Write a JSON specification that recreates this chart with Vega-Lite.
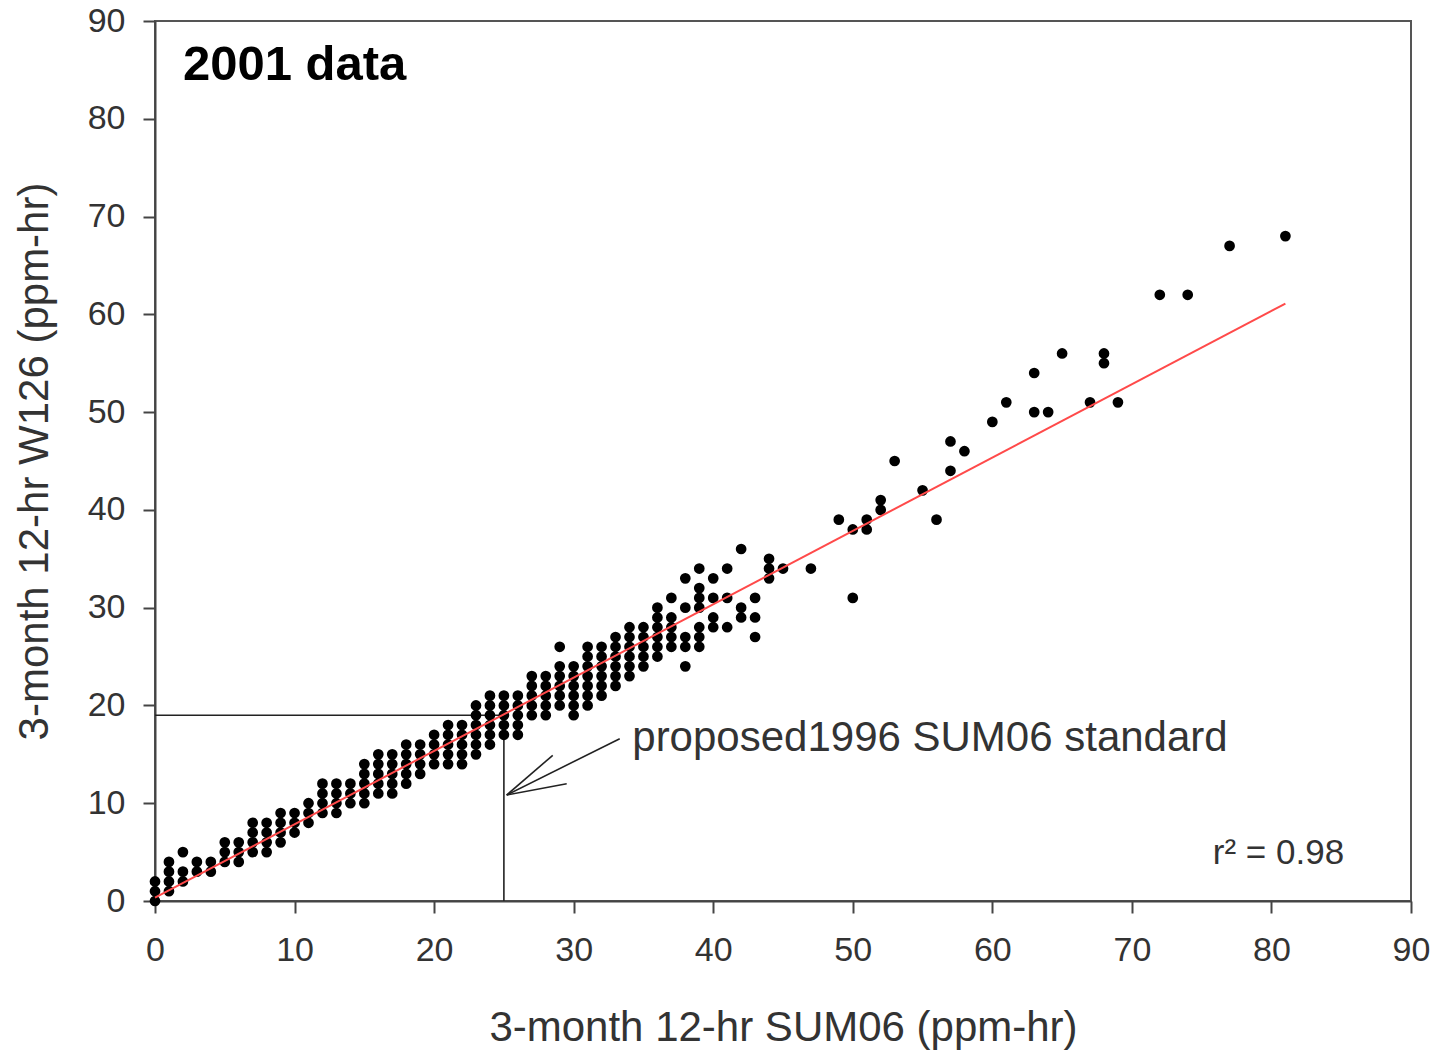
{
  "$schema": "https://vega.github.io/schema/vega-lite/v6.json",
  "width": 1256,
  "height": 880,
  "autosize": {"type": "none"},
  "padding": {"left": 155, "top": 21, "right": 28, "bottom": 150},
  "background": "white",
  "config": {
    "font": "Liberation Sans",
    "view": {"stroke": "#555555", "strokeWidth": 2},
    "axis": {
      "grid": false,
      "domainColor": "#444444",
      "domainWidth": 2,
      "tickColor": "#444444",
      "tickWidth": 2,
      "tickSize": 12,
      "labelFlush": false,
      "labelOverlap": false,
      "labelFont": "Liberation Sans",
      "labelFontSize": 34,
      "labelColor": "#333333",
      "titleFont": "Liberation Sans",
      "titleFontSize": 42,
      "titleFontWeight": "normal",
      "titleColor": "#333333"
    }
  },
  "datasets": {
    "pts": [
      {"x":0,"y":0},{"x":0,"y":1},{"x":0,"y":2},
      {"x":1,"y":1},{"x":1,"y":2},{"x":1,"y":3},{"x":1,"y":4},
      {"x":2,"y":2},{"x":2,"y":3},{"x":2,"y":5},
      {"x":3,"y":3},{"x":3,"y":4},
      {"x":4,"y":3},{"x":4,"y":4},
      {"x":5,"y":4},{"x":5,"y":5},{"x":5,"y":6},
      {"x":6,"y":4},{"x":6,"y":5},{"x":6,"y":6},
      {"x":7,"y":5},{"x":7,"y":6},{"x":7,"y":7},{"x":7,"y":8},
      {"x":8,"y":5},{"x":8,"y":6},{"x":8,"y":7},{"x":8,"y":8},
      {"x":9,"y":6},{"x":9,"y":7},{"x":9,"y":8},{"x":9,"y":9},
      {"x":10,"y":7},{"x":10,"y":8},{"x":10,"y":9},
      {"x":11,"y":8},{"x":11,"y":9},{"x":11,"y":10},
      {"x":12,"y":9},{"x":12,"y":10},{"x":12,"y":11},{"x":12,"y":12},
      {"x":13,"y":9},{"x":13,"y":10},{"x":13,"y":11},{"x":13,"y":12},
      {"x":14,"y":10},{"x":14,"y":11},{"x":14,"y":12},
      {"x":15,"y":10},{"x":15,"y":11},{"x":15,"y":12},{"x":15,"y":13},{"x":15,"y":14},
      {"x":16,"y":11},{"x":16,"y":12},{"x":16,"y":13},{"x":16,"y":14},{"x":16,"y":15},
      {"x":17,"y":11},{"x":17,"y":12},{"x":17,"y":13},{"x":17,"y":14},{"x":17,"y":15},
      {"x":18,"y":12},{"x":18,"y":13},{"x":18,"y":14},{"x":18,"y":15},{"x":18,"y":16},
      {"x":19,"y":13},{"x":19,"y":14},{"x":19,"y":15},{"x":19,"y":16},
      {"x":20,"y":14},{"x":20,"y":15},{"x":20,"y":16},{"x":20,"y":17},
      {"x":21,"y":14},{"x":21,"y":15},{"x":21,"y":16},{"x":21,"y":17},{"x":21,"y":18},
      {"x":22,"y":14},{"x":22,"y":15},{"x":22,"y":16},{"x":22,"y":17},{"x":22,"y":18},
      {"x":23,"y":15},{"x":23,"y":16},{"x":23,"y":17},{"x":23,"y":18},{"x":23,"y":19},{"x":23,"y":20},
      {"x":24,"y":16},{"x":24,"y":17},{"x":24,"y":18},{"x":24,"y":19},{"x":24,"y":20},{"x":24,"y":21},
      {"x":25,"y":17},{"x":25,"y":18},{"x":25,"y":19},{"x":25,"y":20},{"x":25,"y":21},
      {"x":26,"y":17},{"x":26,"y":18},{"x":26,"y":19},{"x":26,"y":20},{"x":26,"y":21},
      {"x":27,"y":19},{"x":27,"y":20},{"x":27,"y":21},{"x":27,"y":22},{"x":27,"y":23},
      {"x":28,"y":19},{"x":28,"y":20},{"x":28,"y":21},{"x":28,"y":22},{"x":28,"y":23},
      {"x":29,"y":20},{"x":29,"y":21},{"x":29,"y":22},{"x":29,"y":23},{"x":29,"y":24},{"x":29,"y":26},
      {"x":30,"y":19},{"x":30,"y":20},{"x":30,"y":21},{"x":30,"y":22},{"x":30,"y":23},{"x":30,"y":24},
      {"x":31,"y":20},{"x":31,"y":21},{"x":31,"y":22},{"x":31,"y":23},{"x":31,"y":24},{"x":31,"y":25},{"x":31,"y":26},
      {"x":32,"y":21},{"x":32,"y":22},{"x":32,"y":23},{"x":32,"y":24},{"x":32,"y":25},{"x":32,"y":26},
      {"x":33,"y":22},{"x":33,"y":23},{"x":33,"y":24},{"x":33,"y":25},{"x":33,"y":26},{"x":33,"y":27},
      {"x":34,"y":23},{"x":34,"y":24},{"x":34,"y":25},{"x":34,"y":26},{"x":34,"y":27},{"x":34,"y":28},
      {"x":35,"y":24},{"x":35,"y":25},{"x":35,"y":26},{"x":35,"y":27},{"x":35,"y":28},
      {"x":36,"y":25},{"x":36,"y":26},{"x":36,"y":27},{"x":36,"y":28},{"x":36,"y":29},{"x":36,"y":30},
      {"x":37,"y":26},{"x":37,"y":27},{"x":37,"y":28},{"x":37,"y":29},{"x":37,"y":31},
      {"x":38,"y":24},{"x":38,"y":26},{"x":38,"y":27},{"x":38,"y":30},{"x":38,"y":33},
      {"x":39,"y":26},{"x":39,"y":27},{"x":39,"y":28},{"x":39,"y":30},{"x":39,"y":31},{"x":39,"y":32},{"x":39,"y":34},
      {"x":40,"y":28},{"x":40,"y":29},{"x":40,"y":31},{"x":40,"y":33},
      {"x":41,"y":28},{"x":41,"y":31},{"x":41,"y":34},
      {"x":42,"y":29},{"x":42,"y":30},{"x":42,"y":36},
      {"x":43,"y":27},{"x":43,"y":29},{"x":43,"y":31},
      {"x":44,"y":33},{"x":44,"y":34},{"x":44,"y":35},
      {"x":45,"y":34},
      {"x":47,"y":34},
      {"x":49,"y":39},
      {"x":50,"y":38},{"x":50,"y":31},
      {"x":51,"y":39},{"x":51,"y":38},
      {"x":52,"y":41},{"x":52,"y":40},
      {"x":53,"y":45},
      {"x":55,"y":42},
      {"x":56,"y":39},
      {"x":57,"y":47},{"x":57,"y":44},
      {"x":58,"y":46},
      {"x":60,"y":49},
      {"x":61,"y":51},
      {"x":63,"y":54},{"x":63,"y":50},
      {"x":64,"y":50},
      {"x":65,"y":56},
      {"x":67,"y":51},
      {"x":68,"y":56},{"x":68,"y":55},
      {"x":69,"y":51},
      {"x":72,"y":62},
      {"x":74,"y":62},
      {"x":77,"y":67},
      {"x":81,"y":68}
    ],
    "fit": [
      {"x": 0, "y": 0.35},
      {"x": 81, "y": 61.1}
    ],
    "segs": [
      {"x": 0, "y": 19, "x2": 25, "y2": 19},
      {"x": 25, "y": 0, "x2": 25, "y2": 19},
      {"x": 33.3, "y": 16.6, "x2": 25.2, "y2": 10.84},
      {"x": 28.5, "y": 14.9, "x2": 25.2, "y2": 10.84},
      {"x": 29.5, "y": 12.0, "x2": 25.2, "y2": 10.84}
    ]
  },
  "layer": [
    {
      "data": {"name": "segs"},
      "mark": {"type": "rule", "color": "#222222", "strokeWidth": 1.6},
      "encoding": {
        "x": {"field": "x", "type": "quantitative", "scale": {"domain": [0, 90], "nice": false},
          "axis": {"values": [0,10,20,30,40,50,60,70,80,90], "title": "3-month 12-hr SUM06 (ppm-hr)", "labelPadding": 20, "titlePadding": 40}},
        "y": {"field": "y", "type": "quantitative", "scale": {"domain": [0, 90], "nice": false},
          "axis": {"values": [0,10,20,30,40,50,60,70,80,90], "title": "3-month 12-hr W126 (ppm-hr)", "labelPadding": 18, "titlePadding": 31}},
        "x2": {"field": "x2"},
        "y2": {"field": "y2"}
      }
    },
    {
      "data": {"name": "pts"},
      "mark": {"type": "point", "shape": "circle", "filled": true, "color": "#000000", "opacity": 1, "size": 115},
      "encoding": {
        "x": {"field": "x", "type": "quantitative"},
        "y": {"field": "y", "type": "quantitative"}
      }
    },
    {
      "data": {"name": "fit"},
      "mark": {"type": "line", "color": "#ff4a4a", "strokeWidth": 2},
      "encoding": {
        "x": {"field": "x", "type": "quantitative"},
        "y": {"field": "y", "type": "quantitative"}
      }
    },
    {
      "data": {"values": [{"label": "2001 data"}]},
      "mark": {"type": "text", "align": "left", "baseline": "middle", "fontSize": 49, "fontWeight": "bold", "color": "#000000", "font": "Liberation Sans"},
      "encoding": {
        "x": {"datum": 2},
        "y": {"datum": 85.5},
        "text": {"field": "label"}
      }
    },
    {
      "data": {"values": [{"label": "proposed1996 SUM06 standard"}]},
      "mark": {"type": "text", "align": "left", "baseline": "middle", "fontSize": 42, "color": "#333333", "font": "Liberation Sans"},
      "encoding": {
        "x": {"datum": 34.2},
        "y": {"datum": 16.7},
        "text": {"field": "label"}
      }
    },
    {
      "data": {"values": [{"label": "r² = 0.98"}]},
      "mark": {"type": "text", "align": "left", "baseline": "middle", "fontSize": 35, "color": "#333333", "font": "Liberation Sans"},
      "encoding": {
        "x": {"datum": 75.8},
        "y": {"datum": 4.9},
        "text": {"field": "label"}
      }
    }
  ]
}
